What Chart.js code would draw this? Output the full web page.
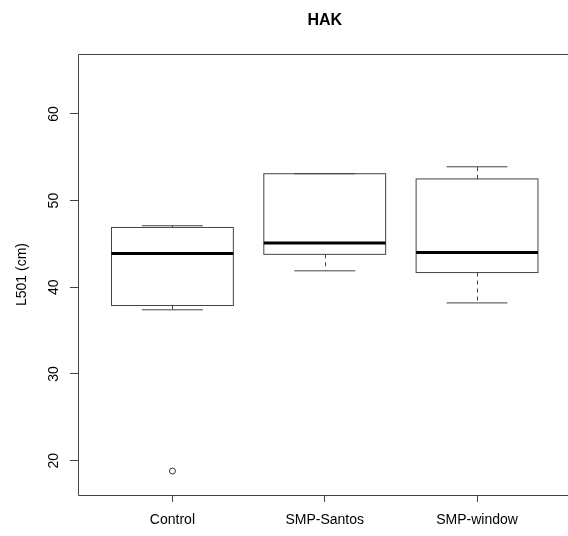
<!DOCTYPE html>
<html>
<head>
<meta charset="utf-8">
<title>HAK</title>
<script src="https://cdn.jsdelivr.net/npm/chart.js@4/dist/chart.umd.min.js"></script>
<style>
  html, body { margin: 0; padding: 0; background: #fff; overflow: hidden; }
  #wrap { width: 568px; height: 536px; position: relative; }
</style>
</head>
<body>
<div id="wrap"><canvas id="boxChart"></canvas></div>
<script>
/* ---- data ---- */
const titleText = "HAK";
const yTitle = "L501 (cm)";
const categories = ["Control", "SMP-Santos", "SMP-window"];
const whiskerLow = [37.4, 41.9, 38.2];
const q1 = [37.9, 43.8, 41.7];
const medians = [43.9, 45.1, 44.0];
const q3 = [46.9, 53.1, 52.5];
const whiskerHigh = [47.1, 53.1, 53.9];
const outlierGroup = [1];
const outlierValue = [18.8];
const yTicks = [20, 30, 40, 50, 60];

/* ---- look ---- */
const FONT = '"Liberation Sans", Arial, sans-serif';
const LINE = "#444";
const BOX_HALF = 0.4;   // boxwex 0.8
const CAP_HALF = 0.2;   // staple half width

function line(ctx, x1, y1, x2, y2) {
  ctx.beginPath();
  ctx.moveTo(x1, y1);
  ctx.lineTo(x2, y2);
  ctx.stroke();
}

// boxes, whiskers and medians, drawn through the chart scales
const boxPlotPlugin = {
  id: "boxPlot",
  beforeDatasetsDraw(chart) {
    const { ctx, scales: { x, y } } = chart;
    ctx.save();
    categories.forEach((name, i) => {
      const pos = i + 1;
      const left = x.getPixelForValue(pos - BOX_HALF);
      const right = x.getPixelForValue(pos + BOX_HALF);
      const mid = Math.round(x.getPixelForValue(pos)) + 0.5;
      const capL = x.getPixelForValue(pos - CAP_HALF);
      const capR = x.getPixelForValue(pos + CAP_HALF);
      const yLo = y.getPixelForValue(whiskerLow[i]);
      const yQ1 = y.getPixelForValue(q1[i]);
      const yMed = y.getPixelForValue(medians[i]);
      const yQ3 = y.getPixelForValue(q3[i]);
      const yHi = y.getPixelForValue(whiskerHigh[i]);

      ctx.strokeStyle = LINE;
      ctx.lineWidth = 1;
      // dashed whiskers
      ctx.setLineDash([4, 4]);
      if (yLo - yQ1 > 0.5) line(ctx, mid, yQ1, mid, yLo);
      if (yQ3 - yHi > 0.5) line(ctx, mid, yQ3, mid, yHi);
      ctx.setLineDash([]);
      // staples
      line(ctx, capL, yLo, capR, yLo);
      line(ctx, capL, yHi, capR, yHi);
      // box
      ctx.strokeRect(left, yQ3, right - left, yQ1 - yQ3);
      // median
      ctx.strokeStyle = "#000";
      ctx.lineWidth = 3;
      line(ctx, left, yMed, right, yMed);
    });
    ctx.restore();
  },
  afterDraw(chart) {
    const { ctx, chartArea: a, scales: { x } } = chart;
    ctx.save();
    // plot frame (right side falls outside the canvas)
    ctx.strokeStyle = LINE;
    ctx.lineWidth = 1;
    const l = Math.round(a.left) + 0.5;
    const t = Math.round(a.top) + 0.5;
    const b = Math.round(a.bottom) + 0.5;
    ctx.beginPath();
    ctx.moveTo(chart.width + 5, t);
    ctx.lineTo(l, t);
    ctx.lineTo(l, b);
    ctx.lineTo(chart.width + 5, b);
    ctx.stroke();
    // main title centred over the full plot region
    const cx = (x.getPixelForValue(x.min) + x.getPixelForValue(2 * 2 - x.min)) / 2;
    ctx.fillStyle = "#000";
    ctx.font = "bold 16px " + FONT;
    ctx.textAlign = "center";
    ctx.textBaseline = "alphabetic";
    ctx.fillText(titleText, cx, 25);
    ctx.restore();
  }
};

const ctx = document.getElementById("boxChart").getContext("2d");
window.chart = new Chart(ctx, {
  type: "scatter",
  data: {
    datasets: [{
      label: "outliers",
      data: outlierGroup.map((g, i) => ({ x: g, y: outlierValue[i] })),
      pointStyle: "circle",
      pointRadius: 3,
      pointHoverRadius: 3,
      borderWidth: 1,
      borderColor: "#333",
      backgroundColor: "#fff"
    }]
  },
  options: {
    responsive: true,
    maintainAspectRatio: false,
    animation: false,
    events: [],
    layout: { padding: { top: 54, left: 14, right: 0, bottom: 0 } },
    plugins: {
      legend: { display: false },
      title: { display: false },
      tooltip: { enabled: false }
    },
    scales: {
      x: {
        type: "linear",
        min: 0.38,
        max: 3.571,
        afterBuildTicks(scale) {
          scale.ticks = categories.map((c, i) => ({ value: i + 1 }));
        },
        afterFit(scale) {
          scale.height = 41;
        },
        ticks: {
          callback: (v) => categories[v - 1],
          font: { family: FONT, size: 14 },
          color: "#000",
          padding: 10,
          maxRotation: 0,
          autoSkip: false
        },
        grid: {
          drawOnChartArea: false,
          drawTicks: true,
          tickLength: 7,
          tickColor: LINE
        },
        border: { display: false }
      },
      y: {
        type: "linear",
        min: 16.04,
        max: 66.91,
        afterBuildTicks(scale) {
          scale.ticks = yTicks.map(v => ({ value: v }));
        },
        afterFit(scale) {
          scale.width = 64;
        },
        title: {
          display: true,
          text: yTitle,
          font: { family: FONT, size: 14 },
          color: "#000",
          padding: 0
        },
        ticks: {
          font: { family: FONT, size: 14 },
          color: "#000",
          minRotation: 90,
          maxRotation: 90,
          crossAlign: "center",
          padding: 8.5
        },
        grid: {
          drawOnChartArea: false,
          drawTicks: true,
          tickLength: 8,
          tickColor: LINE
        },
        border: { display: false }
      }
    }
  },
  plugins: [boxPlotPlugin]
});
</script>
</body>
</html>
